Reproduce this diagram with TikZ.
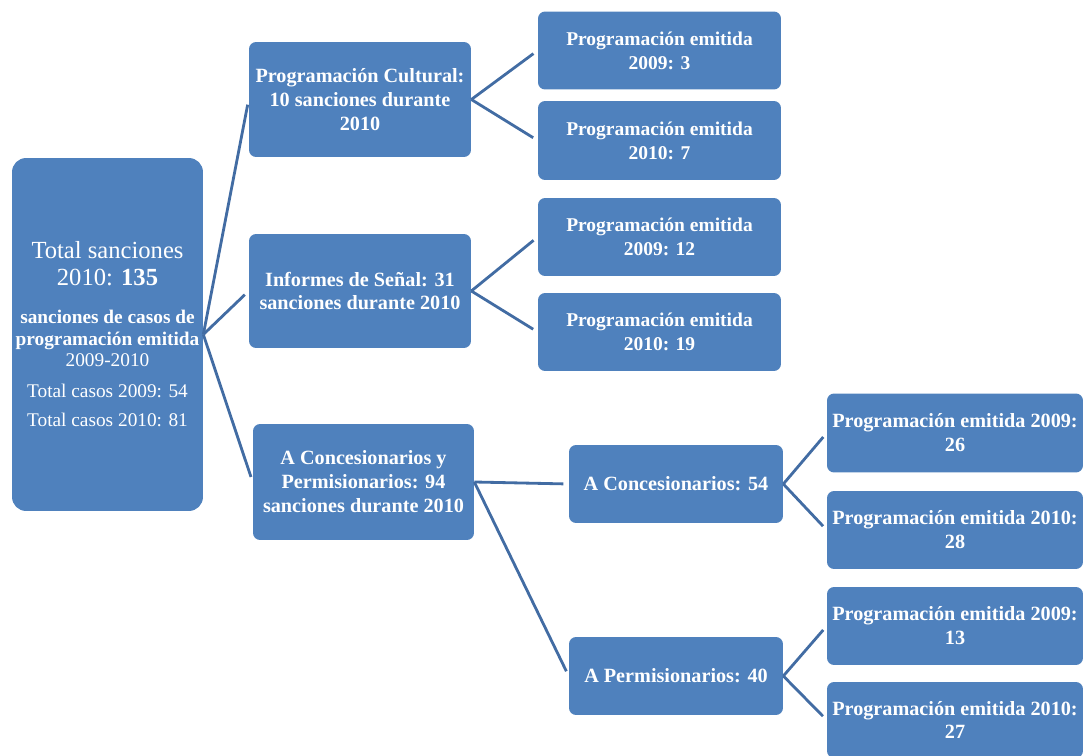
\documentclass[tikz,border=0pt]{standalone}
\usepackage{fontspec}
\setmainfont{Liberation Serif}
\definecolor{boxblue}{RGB}{79,129,189}
\definecolor{linkblue}{RGB}{66,108,163}
\newcommand{\bigrow}[1]{{\fontsize{14}{15.3}\selectfont #1}}

\begin{document}
\begin{tikzpicture}[x=0.02cm, y=-0.02cm,
  box/.style={fill=boxblue, rounded corners=4pt, text=white, align=center,
    inner sep=0pt, font=\bfseries\fontsize{11.5}{13.6}\selectfont},
  narrow/.style={font=\bfseries\fontsize{11.1}{13.6}\selectfont},
  link/.style={draw=linkblue, line width=1.6pt, shorten >=3pt}]
\useasboundingbox (0,0) rectangle (1083,756);
\clip (0,0) rectangle (1083,756);

% Total
\node[box, rounded corners=8pt, minimum width=3.82cm, minimum height=7.06cm,
  font=\mdseries\fontsize{11}{12.5}\selectfont] (root) at (107.5,334.5)
  {\bigrow{Total sanciones}\\[2.6pt]
   \bigrow{2010: \textbf{135}}\\[9pt]
   \textbf{sanciones de casos de}\\[0.3pt]
   \textbf{programación emitida}\\[-0.8pt]
   2009-2010\\[5pt]
   Total casos 2009: 54\\[4.4pt]
   Total casos 2010: 81};

% First level
\node[box, minimum width=4.44cm, minimum height=2.30cm] (cult) at (360,99.5)
  {Programación Cultural:\\ 10 sanciones durante\\ 2010};
\node[box, minimum width=4.44cm, minimum height=2.28cm] (info) at (360,291)
  {Informes de Señal: 31\\ sanciones durante 2010};
\node[box, minimum width=4.42cm, minimum height=2.32cm] (conc) at (363.5,482)
  {A Concesionarios y\\ Permisionarios: 94\\ sanciones durante 2010};

% Second level
\node[box, narrow, minimum width=4.86cm, minimum height=1.56cm] (p1) at (659.5,50.5)
  {Programación emitida\\ 2009: 3};
\node[box, narrow, minimum width=4.86cm, minimum height=1.58cm] (p2) at (659.5,140.5)
  {Programación emitida\\ 2010: 7};
\node[box, narrow, minimum width=4.86cm, minimum height=1.56cm] (p3) at (659.5,237)
  {Programación emitida\\ 2009: 12};
\node[box, narrow, minimum width=4.86cm, minimum height=1.56cm] (p4) at (659.5,332)
  {Programación emitida\\ 2010: 19};
\node[box, minimum width=4.28cm, minimum height=1.56cm] (ca) at (676,484)
  {A Concesionarios: 54};
\node[box, minimum width=4.28cm, minimum height=1.56cm] (pa) at (676,676)
  {A Permisionarios: 40};

% Third level
\node[box, minimum width=5.12cm, minimum height=1.58cm] (q1) at (955,433)
  {Programación emitida 2009:\\ 26};
\node[box, minimum width=5.12cm, minimum height=1.56cm] (q2) at (955,530)
  {Programación emitida 2010:\\ 28};
\node[box, minimum width=5.12cm, minimum height=1.56cm] (q3) at (955,626)
  {Programación emitida 2009:\\ 13};
\node[box, minimum width=5.12cm, minimum height=1.52cm] (q4) at (955,720)
  {Programación emitida 2010:\\ 27};

% Connectors
\draw[link] (root.east) -- (cult.west);
\draw[link] (root.east) -- (info.west);
\draw[link] (root.east) -- (conc.west);
\draw[link] (cult.east) -- (p1.west);
\draw[link] (cult.east) -- (p2.west);
\draw[link] (info.east) -- (p3.west);
\draw[link] (info.east) -- (p4.west);
\draw[link] (conc.east) -- (ca.west);
\draw[link] (conc.east) -- (pa.west);
\draw[link] (ca.east) -- (q1.west);
\draw[link] (ca.east) -- (q2.west);
\draw[link] (pa.east) -- (q3.west);
\draw[link] (pa.east) -- (q4.west);
\end{tikzpicture}
\end{document}
